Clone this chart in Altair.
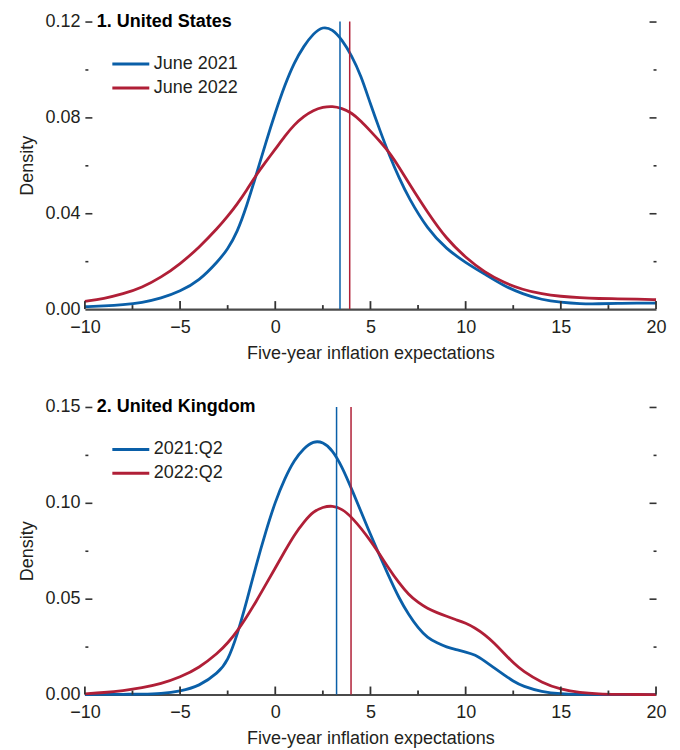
import altair as alt
import pandas as pd

# ---------------- data ----------------
US_X = [-10, -9, -8, -7, -6, -5, -4, -3, -2.5, -2, -1.5, -1, -0.5, 0, 0.5, 1, 1.5, 2, 2.5,
        3, 3.5, 4, 4.5, 5, 5.5, 6, 6.5, 7, 8, 9, 10, 11, 12, 13, 14, 15, 16, 17, 18, 19, 20]
US_2021 = [0.0010, 0.0013, 0.0018, 0.0027, 0.0045, 0.0074, 0.0118, 0.0200, 0.0250, 0.0320,
           0.0430, 0.0560, 0.0694, 0.0820, 0.0935, 0.1030, 0.1098, 0.1150, 0.1180, 0.1168,
           0.1125, 0.1060, 0.0975, 0.0855, 0.0745, 0.0640, 0.0548, 0.0465, 0.0333, 0.0250,
           0.0194, 0.0146, 0.0097, 0.0063, 0.0039, 0.0028, 0.0022, 0.0022, 0.0024, 0.0025,
           0.0025]
US_2022 = [0.0032, 0.0044, 0.0063, 0.0090, 0.0132, 0.0188, 0.0257, 0.0340, 0.0387, 0.0438,
           0.0496, 0.0560, 0.0615, 0.0667, 0.0722, 0.0770, 0.0805, 0.0830, 0.0843, 0.0847,
           0.0838, 0.0820, 0.0785, 0.0743, 0.0700, 0.0653, 0.0593, 0.0528, 0.0403, 0.0292,
           0.0215, 0.0153, 0.0111, 0.0081, 0.0063, 0.0053, 0.0047, 0.0044, 0.0043, 0.0042,
           0.0039]

UK_X = [-10, -9, -8, -7, -6, -5, -4, -3, -2.5, -2, -1.5, -1, -0.5, 0, 0.5, 1, 1.5, 2, 2.5,
        3, 3.5, 4, 5, 6, 6.5, 7, 7.5, 8, 8.5, 9, 9.5, 10, 10.5, 11, 11.5, 12, 12.5, 13, 14,
        15, 16, 17, 18, 19, 20]
UK_2021 = [0.0000, 0.0001, 0.0001, 0.0002, 0.0005, 0.0017, 0.0043, 0.0113, 0.0174, 0.0310,
           0.0486, 0.0677, 0.0850, 0.1007, 0.1128, 0.1224, 0.1285, 0.1322, 0.1318, 0.1276,
           0.1190, 0.1076, 0.0833, 0.0608, 0.0503, 0.0417, 0.0347, 0.0295, 0.0269, 0.0247,
           0.0234, 0.0222, 0.0208, 0.0174, 0.0139, 0.0104, 0.0069, 0.0043, 0.0014, 0.0003,
           0.0001, 0.0000, 0.0000, 0.0000, 0.0000]
UK_2022 = [0.0003, 0.0010, 0.0020, 0.0035, 0.0056, 0.0090, 0.0139, 0.0217, 0.0268, 0.0330,
           0.0405, 0.0486, 0.0573, 0.0660, 0.0748, 0.0833, 0.0900, 0.0955, 0.0978, 0.0986,
           0.0968, 0.0929, 0.0807, 0.0651, 0.0582, 0.0521, 0.0480, 0.0448, 0.0427, 0.0408,
           0.0390, 0.0373, 0.0347, 0.0313, 0.0269, 0.0217, 0.0165, 0.0122, 0.0061, 0.0026,
           0.0009, 0.0003, 0.0001, 0.0000, 0.0000]

US_LABELS = ["June 2021", "June 2022"]
UK_LABELS = ["2021:Q2", "2022:Q2"]
US_MEANS = [3.40, 3.91]
UK_MEANS = [3.22, 3.98]

US_TITLE = "1. United States"
UK_TITLE = "2. United Kingdom"
X_TITLE = "Five-year inflation expectations"
Y_TITLE = "Density"

X_LABEL_TICKS = [-10, -5, 0, 5, 10, 15, 20]
X_MINOR_TICKS = [-7.5, -2.5, 2.5, 7.5, 12.5, 17.5]
US_Y_LABEL_TICKS = [0.0, 0.04, 0.08, 0.12]
US_Y_ALL_TICKS = [0.02, 0.04, 0.06, 0.08, 0.10, 0.12]
UK_Y_LABEL_TICKS = [0.0, 0.05, 0.10, 0.15]
UK_Y_ALL_TICKS = [0.025, 0.05, 0.075, 0.10, 0.125, 0.15]

# ---------------- styling ----------------
BLUE = "#0a5fa8"
RED = "#b01f37"
FONT = "Liberation Sans, Arial, sans-serif"
INK = "#231f20"
TICK = "#333333"
W, H = 572, 288


def panel(xs, y1, y2, labels, means, title, ymax, ylabels, yall, major_test):
    df = pd.concat([
        pd.DataFrame({"x": xs, "density": y1, "series": labels[0]}),
        pd.DataFrame({"x": xs, "density": y2, "series": labels[1]}),
    ])
    mdf = pd.DataFrame({"mean": means, "series": labels})
    tdf = pd.DataFrame({"t": [title]})

    xsc = alt.Scale(domain=[-10, 20], nice=False, zero=False)
    ysc = alt.Scale(domain=[0, ymax], nice=False, zero=True)
    color = alt.Color(
        "series:N",
        scale=alt.Scale(domain=labels, range=[BLUE, RED]),
        sort=labels,
        legend=alt.Legend(
            title=None, orient="none", legendX=26, legendY=34,
            symbolType="stroke", symbolSize=1369, symbolStrokeWidth=3,
            labelFont=FONT, labelFontSize=18, labelColor=INK,
            labelOffset=3, rowPadding=5, clipHeight=17, padding=0,
            direction="vertical",
        ),
    )

    lines = alt.Chart(df).mark_line(strokeWidth=2.8, interpolate="basis").encode(
        x=alt.X("x:Q", scale=xsc, axis=alt.Axis(
            orient="bottom", values=X_LABEL_TICKS, ticks=False, domain=True,
            domainColor="#4a4a4a", domainWidth=2.2, grid=False, labelPadding=9,
            labelFlush=False, title=X_TITLE, titlePadding=8)),
        y=alt.Y("density:Q", scale=ysc, axis=alt.Axis(
            orient="left", values=ylabels, format=".2f", ticks=False, domain=False,
            grid=False, labelPadding=5, labelFlush=False,
            title=Y_TITLE, titlePadding=8)),
        color=color,
    )

    ytick = {"condition": {"test": major_test, "value": 7}, "value": 3}

    # invisible copies that carry the inward y ticks on both sides
    ghost1 = alt.Chart(df).mark_line(strokeOpacity=0).encode(
        x=alt.X("x:Q", scale=xsc, axis=None),
        y=alt.Y("density:Q", scale=ysc, axis=alt.Axis(
            orient="right", offset=-W, values=yall, labels=False, domain=False,
            grid=False, title=None, tickSize=ytick)),
        detail="series:N",
    )
    ghost2 = alt.Chart(df).mark_line(strokeOpacity=0).encode(
        x=alt.X("x:Q", scale=xsc, axis=None),
        y=alt.Y("density:Q", scale=ysc, axis=alt.Axis(
            orient="left", offset=-W, values=yall, labels=False, domain=False,
            grid=False, title=None, tickSize=ytick)),
        detail="series:N",
    )

    # inward x ticks, positioned through the x scale
    xmaj = alt.Chart(pd.DataFrame({"t": X_LABEL_TICKS})).mark_rule(
        color=TICK, strokeWidth=1.8).encode(
        x=alt.X("t:Q", scale=xsc, axis=None), y=alt.value(H - 8), y2=alt.value(H))
    xmin = alt.Chart(pd.DataFrame({"t": X_MINOR_TICKS})).mark_rule(
        color=TICK, strokeWidth=1.8).encode(
        x=alt.X("t:Q", scale=xsc, axis=None), y=alt.value(H - 4), y2=alt.value(H))

    rules = alt.Chart(mdf).mark_rule(strokeWidth=1.5).encode(
        x=alt.X("mean:Q", scale=xsc, axis=None),
        color=color,
    )

    text = alt.Chart(tdf).mark_text(
        align="left", baseline="middle", fontSize=18, fontWeight="bold",
        font=FONT, color="black",
    ).encode(text="t:N", x=alt.value(12), y=alt.value(0))

    return alt.layer(lines, ghost1, ghost2, xmaj, xmin, rules, text).resolve_axis(
        x="independent", y="independent"
    ).properties(width=W, height=H)


p1 = panel(US_X, US_2021, US_2022, US_LABELS, US_MEANS, US_TITLE, 0.12,
           US_Y_LABEL_TICKS, US_Y_ALL_TICKS, "round(datum.value * 100) % 4 == 0")
p2 = panel(UK_X, UK_2021, UK_2022, UK_LABELS, UK_MEANS, UK_TITLE, 0.15,
           UK_Y_LABEL_TICKS, UK_Y_ALL_TICKS, "round(datum.value * 1000) % 50 == 0")

chart = alt.vconcat(p1, p2, spacing=36).resolve_scale(
    color="independent", y="independent"
).configure_view(stroke=None).configure_axis(
    labelFont=FONT, labelFontSize=18, labelColor=INK,
    titleFont=FONT, titleFontSize=18, titleFontWeight="normal", titleColor=INK,
    tickColor=TICK, tickWidth=1.6,
).properties(
    padding={"left": 10, "top": 4, "right": 5, "bottom": 5},
    background="white",
)

chart.save("out.html", embed_options={"renderer": "svg", "actions": False})
